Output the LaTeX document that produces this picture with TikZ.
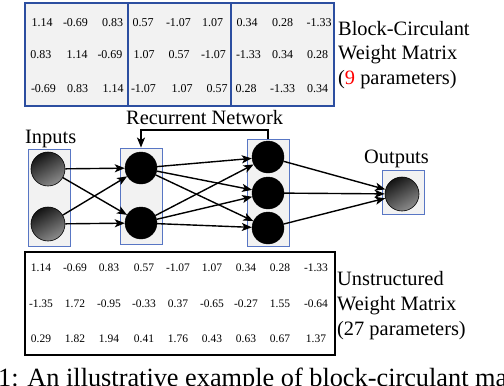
\documentclass[tikz,border=0pt]{standalone}
\usepackage{fontspec}
\setmainfont{Liberation Serif}
\usetikzlibrary{arrows.meta}
\definecolor{matblue}{RGB}{44,78,160}
\definecolor{boxblue}{RGB}{88,118,196}
\definecolor{boxfill}{RGB}{242,242,242}
\tikzset{
  num/.style={inner sep=0pt, anchor=center, font=\fontsize{12}{12}\selectfont},
  bnum/.style={inner sep=0pt, anchor=center, font=\fontsize{11.5}{11.5}\selectfont},
  lbl/.style={inner sep=0pt, anchor=base west, font=\fontsize{20.4}{24}\selectfont},
  layerbox/.style={draw=boxblue, line width=0.9pt, fill=boxfill, inner sep=0pt, rectangle},
  shadedneuron/.style={circle, draw=black, line width=0.6pt, minimum size=34pt, inner sep=0pt,
     left color=black!92, right color=black!45, shading angle=30},
  blackneuron/.style={circle, fill=black, draw=black, minimum size=32pt, inner sep=0pt},
  conn/.style={line width=1.4pt, -{Stealth[length=10pt,width=8pt,inset=2.5pt]}},
}
\begin{document}
\begin{tikzpicture}[x=1pt,y=-1pt]
\useasboundingbox (0,0) rectangle (504,386);
\begin{scope}
\clip (0,0) rectangle (504,386);
% ---------- top block-circulant matrix ----------
\node[draw=matblue, line width=1.8pt, fill=boxfill, minimum width=309pt, minimum height=103pt, inner sep=0pt] (topmat) at (179.5,54.5) {};
\draw[matblue, line width=1.8pt] (topmat.north west -| 128,0) coordinate (d1a) -- (topmat.south west -| 128,0) coordinate (d1b);
\draw[matblue, line width=1.8pt] (topmat.north west -| 231,0) coordinate (d2a) -- (topmat.south west -| 231,0) coordinate (d2b);
% row 1
\node[num] (t11) at (42,23) {1.14};
\node[num] (t12) at (75.5,23) {-0.69};
\node[num] (t13) at (112.5,23) {0.83};
\node[num] (t14) at (143,23) {0.57};
\node[num] (t15) at (178.5,23) {-1.07};
\node[num] (t16) at (212.5,23) {1.07};
\node[num] (t17) at (247,23) {0.34};
\node[num] (t18) at (282.5,23) {0.28};
\node[num] (t19) at (319,23) {-1.33};
% row 2
\node[num] (t21) at (41,55) {0.83};
\node[num] (t22) at (77,55) {1.14};
\node[num] (t23) at (110,55) {-0.69};
\node[num] (t24) at (144,55) {1.07};
\node[num] (t25) at (179,55) {0.57};
\node[num] (t26) at (213.5,55) {-1.07};
\node[num] (t27) at (248.5,55) {-1.33};
\node[num] (t28) at (282.5,55) {0.34};
\node[num] (t29) at (317.5,55) {0.28};
% row 3
\node[num] (t31) at (43.5,89) {-0.69};
\node[num] (t32) at (77.5,89) {0.83};
\node[num] (t33) at (113,89) {1.14};
\node[num] (t34) at (143.5,89) {-1.07};
\node[num] (t35) at (182,89) {1.07};
\node[num] (t36) at (217,89) {0.57};
\node[num] (t37) at (246,89) {0.28};
\node[num] (t38) at (282.5,89) {-1.33};
\node[num] (t39) at (317.5,89) {0.34};
% label
\node[lbl] (bc1) at (338,35) {Block-Circulant};
\node[lbl] (bc2) at (338,59.5) {Weight Matrix};
\node[lbl] (bc3) at (338,84) {(\textcolor{red}{9} parameters)};

% ---------- network ----------
\node[layerbox, minimum width=42pt, minimum height=97pt] (ibox) at (49,197.5) {};
\node[layerbox, minimum width=42pt, minimum height=96pt] (h1box) at (141,196) {};
\node[layerbox, minimum width=42pt, minimum height=107pt] (h2box) at (268,192.5) {};
\node[layerbox, minimum width=42pt, minimum height=44pt] (obox) at (403,192) {};

\node[shadedneuron] (i1) at (48,169) {};
\node[shadedneuron] (i2) at (48,224) {};
\node[blackneuron] (a1) at (141,168) {};
\node[blackneuron] (a2) at (141,223) {};
\node[blackneuron] (b1) at (268,157) {};
\node[blackneuron] (b2) at (268,193) {};
\node[blackneuron] (b3) at (268,228) {};
\node[shadedneuron] (o1) at (402,194) {};

\foreach \s in {i1,i2} \foreach \t in {a1,a2} \draw[conn] (\s) -- (\t);
\foreach \s in {a1,a2} \foreach \t in {b1,b2,b3} \draw[conn] (\s) -- (\t);
\foreach \s in {b1,b2,b3} \draw[conn] (\s) -- (o1);

\coordinate (rc) at (141,130);
\draw[conn] (h2box.north) |- (rc) -- (h1box.north);

\node[lbl] (inlbl) at (25,143) {Inputs};
\node[lbl] (rnlbl) at (126,124) {Recurrent Network};
\node[lbl] (outlbl) at (364,163) {Outputs};

% ---------- bottom unstructured matrix ----------
\node[draw=black, line width=1.8pt, fill=white, minimum width=310pt, minimum height=103pt, inner sep=0pt] (botmat) at (180,303.5) {};
\foreach \x [count=\c] in {41,75,109,144,178,212,246,280,316} {
  \coordinate (bc\c) at (\x,0);
}
\foreach \v [count=\c] in {1.14,-0.69,0.83,0.57,-1.07,1.07,0.34,0.28,-1.33}
  \node[bnum] (u1\c) at (bc\c |- 0,268) {\v};
\foreach \v [count=\c] in {-1.35,1.72,-0.95,-0.33,0.37,-0.65,-0.27,1.55,-0.64}
  \node[bnum] (u2\c) at (bc\c |- 0,304) {\v};
\foreach \v [count=\c] in {0.29,1.82,1.94,0.41,1.76,0.43,0.63,0.67,1.37}
  \node[bnum] (u3\c) at (bc\c |- 0,339) {\v};

\node[lbl] (us1) at (337,285) {Unstructured};
\node[lbl] (us2) at (337,310) {Weight Matrix};
\node[lbl] (us3) at (337,335) {(27 parameters)};

% ---------- caption ----------
\node[inner sep=0pt, anchor=base west, font=\fontsize{26.3}{30}\selectfont] (cap) at (-2,386) {1: An illustrative example of block-circulant ma};
\end{scope}
\end{tikzpicture}
\end{document}
